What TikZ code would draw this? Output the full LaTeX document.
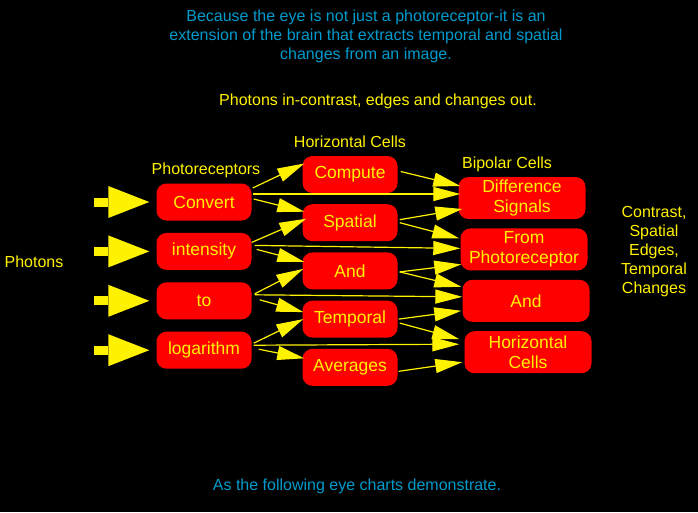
\documentclass[tikz,border=0pt]{standalone}
\usepackage{fontspec}
\setmainfont{Liberation Sans}
\usetikzlibrary{positioning, arrows.meta}
\definecolor{noteblue}{RGB}{0,155,205}

\begin{document}
\begin{tikzpicture}[
        x=1pt, y=-1pt,
        node distance=12pt,
        cell/.style={
            rectangle, rounded corners=10pt, fill=red, text=yellow, align=center,
            minimum width=95pt, minimum height=37pt, inner sep=2pt,
            font=\fontsize{17.5}{20}\selectfont
        },
        bipolar/.style={cell, minimum width=127pt, minimum height=42pt},
        caption/.style={text=yellow, align=center, font=\fontsize{16}{19}\selectfont},
        note/.style={text=noteblue, align=center, font=\fontsize{16}{19}\selectfont},
        link/.style={draw=yellow, line width=1.2pt, -{Triangle[length=27pt, width=14pt]}},
        photon/.style={draw=yellow, line width=9pt,
            -{Triangle[length=41pt, width=32pt, line width=0pt]}, shorten >=7pt},
    ]
    \useasboundingbox (0,0) rectangle (698,512);
    \fill[black] (0,0) rectangle (698,512);

    % Photoreceptors
    \node [cell] (convert) at (204,202) {Convert};
    \node [cell, below=12pt of convert] (intensity) {intensity};
    \node [cell, below=12pt of intensity] (to) {to};
    \node [cell, below=12pt of to] (logarithm) {logarithm};

    % Horizontal cells
    \node [cell] (compute) at (350,174.5) {Compute};
    \node [cell, below=10.8pt of compute] (spatial) {Spatial};
    \node [cell, below=10.8pt of spatial] (andh) {And};
    \node [cell, below=10.8pt of andh] (temporal) {Temporal};
    \node [cell, below=10.8pt of temporal] (averages) {Averages};

    % Bipolar cells
    \node [bipolar] (difference) at (522,198) {Difference\\Signals};
    \node [bipolar, below=9pt of difference, xshift=2pt] (fromphoto) {From\\Photoreceptor};
    \node [bipolar, below=9pt of fromphoto, xshift=2pt] (andb) {And};
    \node [bipolar, below=9pt of andb, xshift=2pt] (horizcells) {Horizontal\\Cells};

    % Labels
    \node [caption] (photoreceptors) at (206,170) {Photoreceptors};
    \node [caption] (horizontal) at (350,142) {Horizontal Cells};
    \node [caption] (bipolarlabel) at (507,164) {Bipolar Cells};
    \node [caption] (photons) at (34,262) {Photons};
    \node [caption] (output) at (654,252) {Contrast,\\Spatial\\Edges,\\Temporal\\Changes};
    \node [note] (because) at (366,36) {Because the eye is not just a photoreceptor-it is an\\
        extension of the brain that extracts temporal and spatial\\changes from an image.};
    \node [caption] (inout) at (378,101) {Photons in-contrast, edges and changes out.};
    \node [note] (charts) at (357,486) {As the following eye charts demonstrate.};

    % Photon arrows
    \foreach \cell in {convert, intensity, to, logarithm} {
        \coordinate [left=62pt of \cell.west] (in-\cell);
        \draw [photon] (in-\cell) -- (\cell.west);
    }

    % Photoreceptors to horizontal and bipolar cells
    \draw [link] ([xshift=1pt, yshift=14pt]convert.east) -- ([xshift=2pt, yshift=11pt]compute.west);
    \draw [link] ([xshift=1pt, yshift=8pt]convert.east) -- ([xshift=2pt, yshift=4pt]difference.west);
    \draw [link] ([xshift=2pt, yshift=3pt]convert.east) -- ([xshift=2pt, yshift=11pt]spatial.west);
    \draw [link] ([yshift=9pt]intensity.east) -- ([xshift=4pt, yshift=4pt]spatial.west);
    \draw [link] ([xshift=3pt, yshift=6pt]intensity.east) -- ([yshift=1pt]fromphoto.west);
    \draw [link] ([xshift=5pt, yshift=2pt]intensity.east) -- ([xshift=2pt, yshift=9pt]andh.west);
    \draw [link] ([xshift=3pt, yshift=7pt]to.east) -- ([xshift=1pt, yshift=2pt]andh.west);
    \draw [link] ([xshift=3pt, yshift=6pt]to.east) -- ([yshift=4pt]andb.west);
    \draw [link] ([xshift=8pt, yshift=1pt]to.east) -- ([xshift=1pt, yshift=7pt]temporal.west);
    \draw [link] ([xshift=2pt, yshift=7pt]logarithm.east) -- ([xshift=1pt]temporal.west);
    \draw [link] ([xshift=2pt, yshift=5pt]logarithm.east) -- ([xshift=-5pt, yshift=8pt]horizcells.west);
    \draw [link] ([xshift=7pt, yshift=1pt]logarithm.east) -- ([xshift=2pt, yshift=9pt]averages.west);

    % Horizontal cells to bipolar cells
    \draw [link] ([xshift=3pt, yshift=3pt]compute.east) -- ([xshift=2pt, yshift=12pt]difference.west);
    \draw [link] ([xshift=2pt, yshift=3pt]spatial.east) -- ([xshift=4pt, yshift=-11pt]difference.west);
    \draw [link] ([xshift=2pt]spatial.east) -- ([xshift=-1pt, yshift=11pt]fromphoto.west);
    \draw [link] ([xshift=2pt, yshift=-1pt]andh.east) -- ([xshift=1pt, yshift=-15pt]fromphoto.west);
    \draw [link] ([xshift=2pt, yshift=-1pt]andh.east) -- ([xshift=-1pt, yshift=14pt]andb.west);
    \draw [link] ([xshift=1pt]temporal.east) -- ([xshift=-1pt, yshift=-10pt]andb.west);
    \draw [link] ([xshift=2pt, yshift=-4pt]temporal.east) -- ([xshift=-5pt, yshift=13pt]horizcells.west);
    \draw [link] ([xshift=1pt, yshift=-4pt]averages.east) -- ([xshift=-2pt, yshift=-10pt]horizcells.west);
\end{tikzpicture}
\end{document}
